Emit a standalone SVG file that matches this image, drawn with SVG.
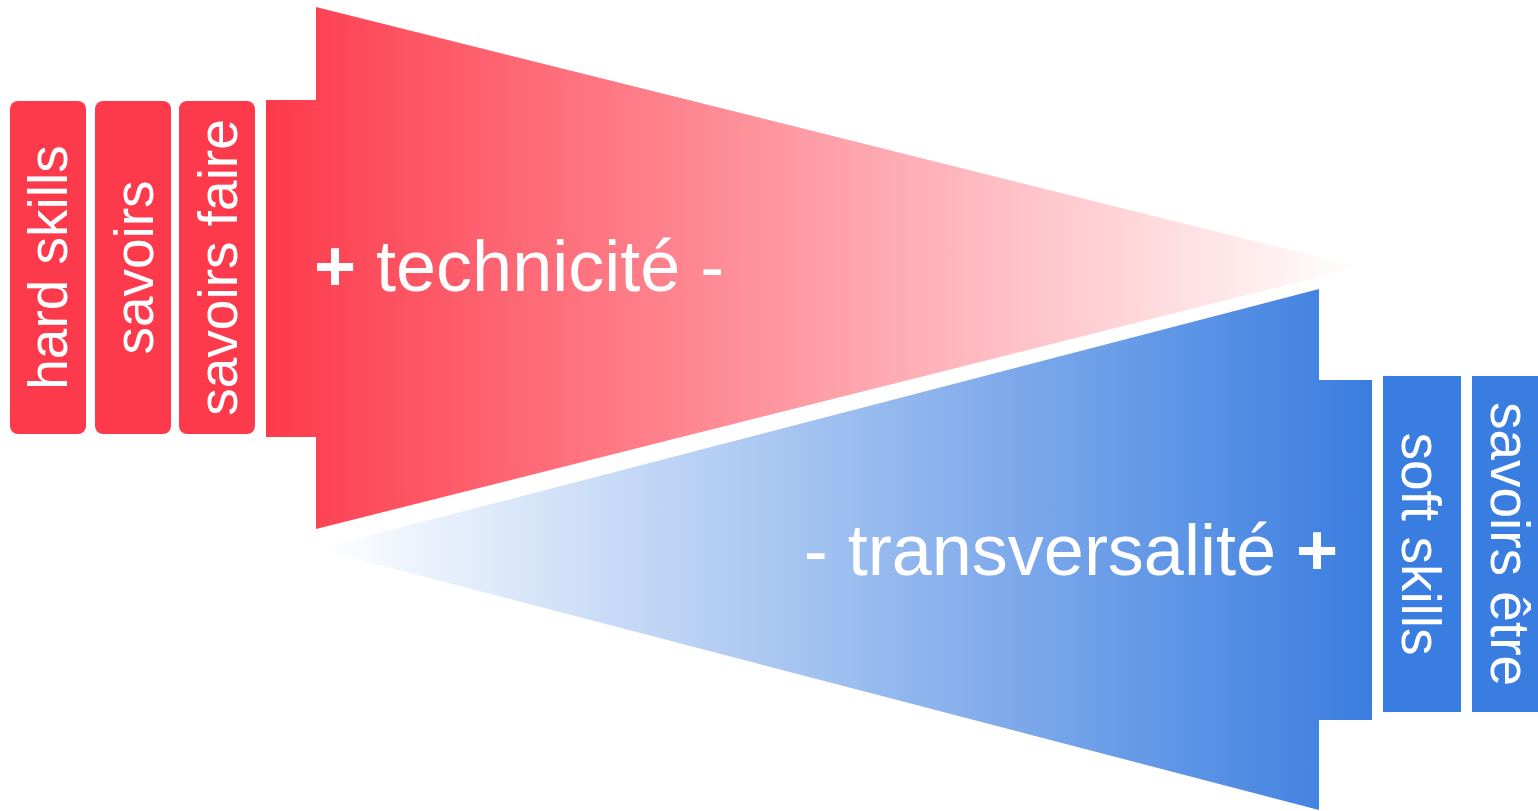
<svg xmlns="http://www.w3.org/2000/svg" width="1538" height="811" viewBox="0 0 1538 811">
  <defs>
    <linearGradient id="gRed" gradientUnits="userSpaceOnUse" x1="266" y1="0" x2="1358" y2="0">
      <stop offset="0" stop-color="#fd3a4b"/>
      <stop offset="1" stop-color="#fd3a4b" stop-opacity="0"/>
    </linearGradient>
    <linearGradient id="gBlue" gradientUnits="userSpaceOnUse" x1="1372" y1="0" x2="318" y2="0">
      <stop offset="0" stop-color="#3a7de0"/>
      <stop offset="1" stop-color="#3a7de0" stop-opacity="0"/>
    </linearGradient>
  </defs>
  <style>
    .lbl { font-family: "Liberation Sans", Arial, sans-serif; fill: #ffffff; }
    .box { font-size: 55px; text-anchor: middle; }
    .big { font-size: 72px; }
    .pm { font-weight: bold; }
    .redbox { fill: #fd3a4b; }
    .bluebox { fill: #3a7de0; }
  </style>
  <rect x="0" y="0" width="1538" height="811" fill="#ffffff"/>

  <g id="technicite">
    <path d="M266,100 L316,100 L316,7 L1358,267 L316,529 L316,437 L266,437 Z" fill="url(#gRed)"/>
    <text class="lbl big" x="314" y="291"><tspan class="pm">+</tspan> technicité -</text>
  </g>

  <g id="transversalite">
    <path d="M1372,380 L1319,380 L1319,289 L318,549 L1319,810 L1319,720 L1372,720 Z" fill="url(#gBlue)"/>
    <text class="lbl big" x="1338" y="575" text-anchor="end">- transversalité <tspan class="pm">+</tspan></text>
  </g>

  <g id="hard-skills">
    <rect class="redbox" x="10" y="101" width="76" height="333" rx="8" ry="8"/>
    <text class="lbl box" transform="translate(67,267.5) rotate(-90)">hard skills</text>
  </g>
  <g id="savoirs">
    <rect class="redbox" x="95" y="101" width="76" height="333" rx="8" ry="8"/>
    <text class="lbl box" transform="translate(153,267.5) rotate(-90)">savoirs</text>
  </g>
  <g id="savoirs-faire">
    <rect class="redbox" x="179" y="101" width="76" height="333" rx="8" ry="8"/>
    <text class="lbl box" transform="translate(237,267.5) rotate(-90)">savoirs faire</text>
  </g>

  <g id="soft-skills">
    <rect class="bluebox" x="1383" y="376" width="78" height="336"/>
    <text class="lbl box" transform="translate(1402,544) rotate(90)">soft skills</text>
  </g>
  <g id="savoirs-etre">
    <rect class="bluebox" x="1472" y="376" width="78" height="336"/>
    <text class="lbl box" transform="translate(1491,544) rotate(90)">savoirs être</text>
  </g>

  <g id="connectors"></g>
</svg>
